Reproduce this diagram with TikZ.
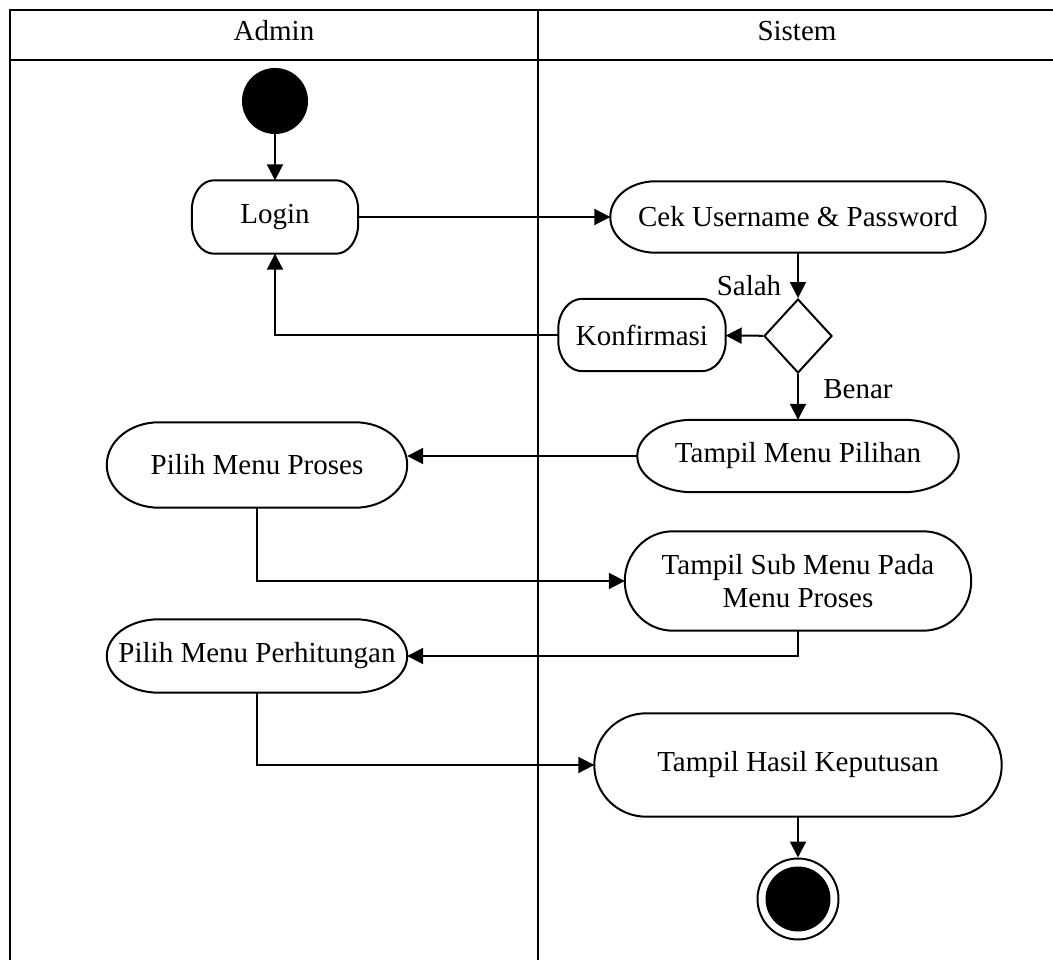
\documentclass[tikz,border=0pt]{standalone}
\usepackage{fontspec}
\setmainfont{Liberation Serif}
\usetikzlibrary{arrows.meta,shapes.geometric}
\newcommand\ellbox[3]{%
  \draw[line width=2pt,line join=round]
    ([xshift=#2]#1.north west) -- ([xshift=-#2]#1.north east)
    arc[start angle=90,end angle=0,x radius=#2,y radius=#3]
    -- ([yshift=#3]#1.south east)
    arc[start angle=0,end angle=-90,x radius=#2,y radius=#3]
    -- ([xshift=#2]#1.south west)
    arc[start angle=-90,end angle=-180,x radius=#2,y radius=#3]
    -- ([yshift=-#3]#1.north west)
    arc[start angle=180,end angle=90,x radius=#2,y radius=#3] -- cycle;}
\begin{document}
\begin{tikzpicture}[x={(1pt,0)},y={(0,-1pt)},
  every node/.style={font=\fontsize{29}{33}\selectfont},
  frameline/.style={line width=2.2pt,line cap=rect},
  act/.style={rectangle,inner sep=0pt,align=center},
  arr/.style={line width=2pt,-{Triangle[length=16pt,width=16pt]}},
  lbl/.style={inner sep=0pt}
]
\useasboundingbox (0,0) rectangle (1053,960);
% swimlane frame
\draw[frameline] (10,960) -- (10,10) -- (1053,10);
\draw[frameline] (10,60) -- (1053,60);
\draw[frameline] (538,10) -- (538,960);
\node[lbl] (hAdmin) at (274,31) {Admin};
\node[lbl] (hSistem) at (797,31) {Sistem};

% nodes
\node[circle,fill=black,draw,line width=1pt,minimum size=65pt,inner sep=0pt] (start) at (275,101) {};
\node[act,minimum width=166pt,minimum height=73pt] (login) at (275,217) {Login};
\node[act,minimum width=375pt,minimum height=71pt] (cek) at (798,217) {Cek Username \& Password};
\node[diamond,draw,line width=2pt,minimum width=68pt,minimum height=74pt,inner sep=0pt] (dec) at (798,336) {};
\node[act,minimum width=167pt,minimum height=72pt] (konf) at (642,335) {Konfirmasi};
\node[act,minimum width=321pt,minimum height=72pt] (tmp) at (798,456) {Tampil Menu Pilihan};
\node[act,minimum width=300pt,minimum height=85pt] (pilih) at (257,465) {Pilih Menu Proses};
\node[act,minimum width=346pt,minimum height=99pt] (sub) at (798,581) {Tampil Sub Menu Pada\\Menu Proses};
\node[act,minimum width=300pt,minimum height=73pt] (perh) at (257,656) {Pilih Menu Perhitungan};
\node[act,minimum width=407pt,minimum height=103pt] (hasil) at (798,765) {Tampil Hasil Keputusan};
\node[circle,draw,line width=2pt,minimum size=81pt,inner sep=0pt] (endo) at (798,899) {};
\node[circle,fill=black,minimum size=65pt,inner sep=0pt] (endi) at (798,899) {};

\ellbox{login}{22pt}{30pt}
\ellbox{cek}{45pt}{35.5pt}
\ellbox{konf}{24pt}{30pt}
\ellbox{tmp}{55pt}{36pt}
\ellbox{pilih}{52pt}{42.5pt}
\ellbox{sub}{48pt}{49.5pt}
\ellbox{perh}{52pt}{36.5pt}
\ellbox{hasil}{52pt}{51.5pt}

% labels
\node[lbl] (salah) at (749,286) {Salah};
\node[lbl] (benar) at (858,389) {Benar};

% connectors
\draw[arr] (start) -- (login);
\draw[arr] (login) -- (cek);
\draw[arr] (cek) -- (dec);
\draw[arr] (dec) -- (konf);
\draw[arr] (konf.west) -| (login.south);
\draw[arr] (dec) -- (tmp);
\draw[arr] (tmp.west) -- (tmp.west -| pilih.east);
\draw[arr] (pilih.south) |- (sub.west);
\draw[arr] (sub.south) |- (perh.east);
\draw[arr] (perh.south) |- (hasil.west);
\draw[arr] (hasil) -- (endo);
\end{tikzpicture}
\end{document}
